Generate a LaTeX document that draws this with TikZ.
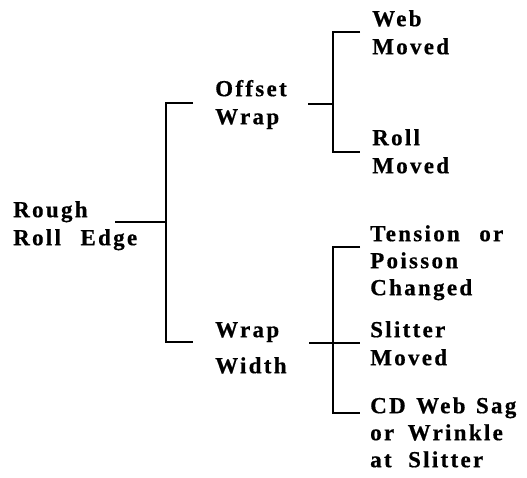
\documentclass[tikz,border=0pt]{standalone}
\usepackage{fontspec}
\setmainfont{Liberation Serif}[LetterSpace=10,WordSpace=1.3,FakeBold=0.6]
\newcommand{\labA}{\fontsize{23bp}{28bp}\selectfont\bfseries}
\newcommand{\labB}{\fontsize{23bp}{27bp}\selectfont\bfseries}
\newcommand{\tp}{\rule{0pt}{17bp}}
\newcommand{\wsp}[1]{\hspace{#1bp}}
\tikzset{
  lab/.style={anchor=north west, inner sep=0pt, align=left, yshift=17bp, font=\labA},
  labthree/.style={lab, font=\labB},
  conn/.style={line width=2bp, line join=miter, line cap=butt},
}
\begin{document}
\begin{tikzpicture}[x=1bp, y=-1bp]
\useasboundingbox (0,0) rectangle (527,478);
% labels (position = baseline of first line)
\node[lab] (root) at (13,217) {\tp Rough\\Roll \wsp{9}Edge};
\node[lab] (offset) at (215,96) {\tp Offset\\Wrap};
\node[lab] (wrapw) at (215,337) {\tp Wrap\\[8bp]Width};
\node[lab] (web) at (372,26) {\tp Web\\Moved};
\node[lab] (roll) at (372,145) {\tp Roll\\Moved};
\node[labthree] (tension) at (370,241) {\tp Tension \wsp{9}or\\Poisson\\Changed};
\node[lab] (slitter) at (370,337) {\tp Slitter\\Moved};
\node[labthree] (cd) at (370,413) {\tp CD Web Sag\\or \wsp{3}Wrinkle\\at \wsp{6}Slitter};
% junction points
\coordinate (s1) at (115,222);
\coordinate (j1) at (166,222);
\coordinate (t1) at (166,103);
\coordinate (b1) at (166,342);
\coordinate (e1) at (193,103);
\coordinate (f1) at (193,342);
\coordinate (s2) at (308,104);
\coordinate (j2) at (333,104);
\coordinate (t2) at (333,32);
\coordinate (b2) at (333,152);
\coordinate (e2) at (360,32);
\coordinate (f2) at (360,152);
\coordinate (s3) at (309,343);
\coordinate (j3) at (333,343);
\coordinate (m3) at (360,343);
\coordinate (t3) at (333,247);
\coordinate (b3) at (333,413);
\coordinate (e3) at (360,247);
\coordinate (f3) at (360,413);
% connectors
\draw[conn] (s1) -- (j1);
\draw[conn] (e1) -- (t1) -- (b1) -- (f1);
\draw[conn] (s2) -- (j2);
\draw[conn] (e2) -- (t2) -- (b2) -- (f2);
\draw[conn] (s3) -- (j3) -- (m3);
\draw[conn] (e3) -- (t3) -- (b3) -- (f3);
\end{tikzpicture}
\end{document}
